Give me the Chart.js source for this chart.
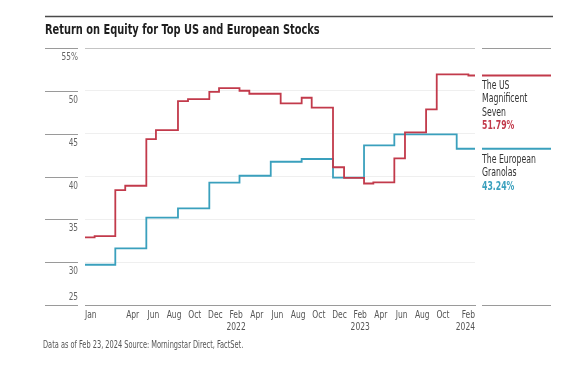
<!DOCTYPE html>
<html>
<head>
<meta charset="utf-8">
<script src="https://cdn.jsdelivr.net/npm/chart.js@4/dist/chart.umd.min.js"></script>
<style>
  html, body { margin: 0; padding: 0; background: #fff; }
  #wrap { width: 585px; height: 366px; position: relative; }
</style>
</head>
<body>
<div id="wrap"><canvas id="c" width="585" height="366"></canvas></div>
<script>
// ---- data (months counted from Jan 2021 on the axis grid) ----
const redMonths = [-1.61, -0.68, 1.32, 2.28, 4.32, 5.25, 7.38, 8.35, 10.41, 11.35, 13.33, 14.28, 17.31, 19.34, 20.31, 22.37, 23.44, 25.37, 26.27, 28.30, 29.33, 31.37, 32.40, 35.46, 36.10];
const redValues = [32.90, 33.05, 38.42, 38.92, 44.37, 45.42, 48.80, 49.04, 49.89, 50.32, 50.01, 49.66, 48.54, 49.19, 48.05, 41.08, 39.85, 39.18, 39.32, 42.12, 45.15, 47.84, 51.92, 51.79, 51.79];
const blueMonths = [-1.61, 1.32, 4.32, 7.38, 10.41, 13.33, 16.35, 19.34, 22.37, 25.37, 28.30, 34.33, 36.10];
const blueValues = [29.70, 31.62, 35.19, 36.28, 39.29, 40.09, 41.72, 42.04, 39.88, 43.63, 44.92, 43.24, 43.24];
const xTickMonths = [-1.61, 3, 5, 7, 9, 11, 13, 15, 17, 19, 21, 23, 25, 27, 29, 31, 33, 36.10];
const xTickLabels = ["Jan", "Apr", "Jun", "Aug", "Oct", "Dec", ["Feb", "2022"], "Apr", "Jun", "Aug", "Oct", "Dec", ["Feb", "2023"], "Apr", "Jun", "Aug", "Oct", ["Feb", "2024"]];
const yTickValues = [25, 30, 35, 40, 45, 50, 55];
const seriesNames = [["The US", "Magnificent", "Seven"], ["The European", "Granolas"]];
const lastLabels = ["51.79%", "43.24%"];
const titleText = "Return on Equity for Top US and European Stocks";
const footText = "Data as of Feb 23, 2024 Source: Morningstar Direct, FactSet.";

const RED = "#c23a4b";
const BLUE = "#3aa0bd";
const FONT = "'Liberation Sans Narrow', 'DejaVu Sans Condensed', 'Roboto', sans-serif";

const toPts = (xs, ys) => xs.map((x, i) => ({ x: x, y: ys[i] }));

// draw condensed text (horizontal squeeze) as real canvas text
function txt(ctx, s, x, y, font, color, align, sx) {
  ctx.save();
  ctx.font = font; ctx.fillStyle = color;
  ctx.textAlign = align; ctx.textBaseline = "middle";
  ctx.translate(x, y); ctx.scale(sx, 1);
  ctx.fillText(s, 0, 0);
  ctx.restore();
}

const decor = {
  id: 'decor',
  afterDraw(chart) {
    const ctx = chart.ctx;
    const ys = chart.scales.y;
    const xs = chart.scales.x;
    ctx.save();
    // top rule
    ctx.strokeStyle = "#4a4a4a";
    ctx.lineWidth = 1.6;
    ctx.beginPath(); ctx.moveTo(45, 16.5); ctx.lineTo(553, 16.5); ctx.stroke();
    // title
    txt(ctx, titleText, 45, 30.5, "bold 14.5px " + FONT, "#1e1e1e", "left", 0.755);
    // y labels with short rules
    yTickValues.forEach(v => {
      const y = Math.round(ys.getPixelForValue(v)) + 0.5;
      ctx.strokeStyle = "#9a9a9a"; ctx.lineWidth = 1;
      ctx.beginPath(); ctx.moveTo(45, y); ctx.lineTo(78, y); ctx.stroke();
      const lab = v === 55 ? "55%" : String(v);
      txt(ctx, lab, 78, v === 25 ? y - 8.5 : y + 8.5, "10.5px " + FONT, "#666", "right", 0.78);
    });
    // x labels at the scale's tick positions
    xs.ticks.forEach((t, i) => {
      const px = xs.getPixelForValue(t.value);
      const lab = xTickLabels[i];
      const lines = Array.isArray(lab) ? lab : [lab];
      const align = i === 0 ? "left" : (i === xs.ticks.length - 1 ? "right" : "center");
      lines.forEach((l, k) => txt(ctx, l, px, 315 + k * 11.8, "10.5px " + FONT, "#555", align, 0.8));
    });
    // right panel
    const px0 = 482, px1 = 551;
    const rule = (y, col, w) => {
      ctx.strokeStyle = col; ctx.lineWidth = w;
      ctx.beginPath(); ctx.moveTo(px0, y); ctx.lineTo(px1, y); ctx.stroke();
    };
    rule(Math.round(ys.getPixelForValue(55)) + 0.5, "#9a9a9a", 1);
    rule(Math.round(ys.getPixelForValue(25)) + 0.5, "#9a9a9a", 1);
    const yR = ys.getPixelForValue(redValues[redValues.length - 1]);
    const yB = ys.getPixelForValue(blueValues[blueValues.length - 1]);
    rule(yR, RED, 1.8);
    rule(yB, BLUE, 1.8);
    const f = "11.5px " + FONT, fb = "bold 11.5px " + FONT, sq = 0.75;
    seriesNames[0].forEach((t, i) => txt(ctx, t, px0, yR + 10.5 + i * 13.4, f, "#333", "left", sq));
    txt(ctx, lastLabels[0], px0, yR + 10.5 + 3 * 13.4, fb, RED, "left", sq);
    seriesNames[1].forEach((t, i) => txt(ctx, t, px0, yB + 11 + i * 13.4, f, "#333", "left", sq));
    txt(ctx, lastLabels[1], px0, yB + 11 + 2 * 13.4, fb, BLUE, "left", sq);
    // footer
    txt(ctx, footText, 43, 345, "10.5px " + FONT, "#555", "left", 0.7);
    ctx.restore();
  }
};

new Chart(document.getElementById('c'), {
  type: 'line',
  data: {
    datasets: [
      { label: "The US Magnificent Seven", data: toPts(redMonths, redValues), borderColor: RED, borderWidth: 1.8, stepped: true, pointRadius: 0, fill: false },
      { label: "The European Granolas", data: toPts(blueMonths, blueValues), borderColor: BLUE, borderWidth: 1.8, stepped: true, pointRadius: 0, fill: false }
    ]
  },
  options: {
    responsive: false,
    animation: false,
    layout: { padding: { left: 85, right: 110, top: 48, bottom: 33 } },
    plugins: { legend: { display: false }, tooltip: { enabled: false }, title: { display: false } },
    scales: {
      x: {
        type: 'linear',
        min: xTickMonths[0],
        max: xTickMonths[xTickMonths.length - 1],
        afterBuildTicks: s => { s.ticks = xTickMonths.map(v => ({ value: v })); },
        afterFit: s => { s.height = 28; },
        grid: { display: false, drawTicks: false },
        border: { display: true, color: "#9a9a9a", width: 1 },
        ticks: { display: false, autoSkip: false, maxRotation: 0, minRotation: 0 }
      },
      y: {
        type: 'linear',
        min: 25, max: 55,
        afterBuildTicks: s => { s.ticks = yTickValues.map(v => ({ value: v })); },
        afterFit: s => { s.width = 0; },
        border: { display: false },
        ticks: { display: false },
        grid: {
          drawTicks: false,
          color: c => (c.tick && c.tick.value === 55) ? "#c4c4c4" : (c.tick && c.tick.value === 25 ? "rgba(0,0,0,0)" : "#efefef"),
          lineWidth: 1
        }
      }
    }
  },
  plugins: [decor]
});
</script>
</body>
</html>
